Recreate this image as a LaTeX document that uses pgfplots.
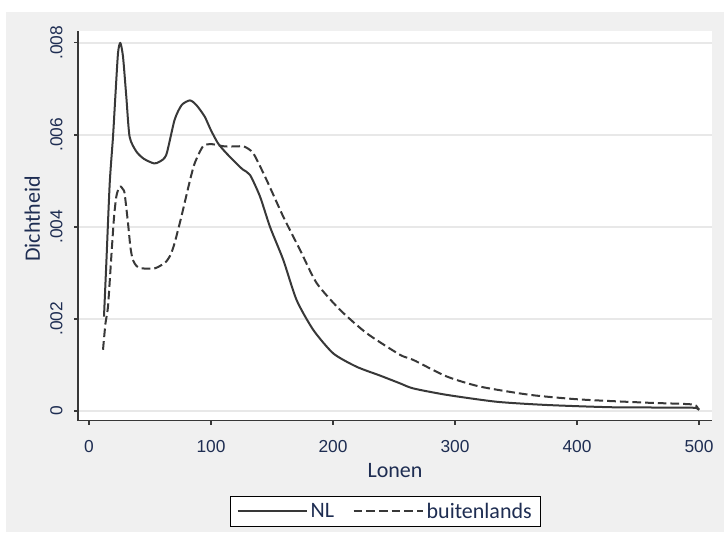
\documentclass[border=0pt]{standalone}
\usepackage{pgfplots}
\pgfplotsset{compat=1.18}
\usepackage{fontspec}
\setmainfont{Carlito}
\newfontfamily\numfont{Liberation Sans}

\definecolor{bggray}{HTML}{F0F0F0}
\definecolor{gridgray}{HTML}{E8E8E8}
\definecolor{txt}{HTML}{1E2D52}
\definecolor{ln}{HTML}{383838}

% kernel density estimates
\pgfplotstableread{
x y
12.3 0.00205
14.2 0.00320
17.0 0.00495
19.7 0.00596
21.6 0.00683
23.8 0.00778
25.7 0.00800
27.9 0.00770
30.6 0.00683
33.3 0.00596
38.8 0.00564
45.0 0.00548
53.3 0.00538
58.0 0.00542
63.4 0.00557
70.2 0.00633
76.0 0.00665
82.8 0.00675
88.0 0.00665
94.8 0.00640
100.0 0.00610
105.7 0.00582
112.0 0.00562
120.8 0.00538
126.0 0.00525
132.0 0.00513
140.2 0.00466
148.4 0.00400
159.3 0.00328
170.2 0.00241
183.9 0.00176
200.3 0.00125
219.4 0.00096
238.5 0.00077
255.0 0.00060
265.8 0.00049
293.2 0.00035
334.2 0.00020
375.2 0.00013
429.8 0.00008
495.0 0.00007
499.0 0.00002
}\nltable

\pgfplotstableread{
x y
11.5 0.00133
13.5 0.00190
15.6 0.00227
18.3 0.00335
20.5 0.00420
22.4 0.00466
24.5 0.00485
26.0 0.00488
27.8 0.00482
29.2 0.00473
32.0 0.00408
34.0 0.00355
36.0 0.00328
39.0 0.00315
42.9 0.00310
53.8 0.00310
60.0 0.00318
63.4 0.00325
67.0 0.00340
70.2 0.00365
75.7 0.00422
82.5 0.00498
86.6 0.00538
93.4 0.00575
100.3 0.00580
111.2 0.00575
122.0 0.00575
127.0 0.00575
134.7 0.00560
145.6 0.00502
159.3 0.00422
173.0 0.00350
186.6 0.00278
205.7 0.00220
227.6 0.00169
255.0 0.00122
265.8 0.00111
293.2 0.00075
320.5 0.00053
361.5 0.00035
402.5 0.00025
457.0 0.00018
495.0 0.00014
499.0 0.00003
}\butable

\begin{document}
\begin{tikzpicture}
\path[use as bounding box, fill=white] (0,0) rectangle (543pt,399pt);
\fill[bggray] (4.5pt,0) rectangle (543pt,390pt);
\begin{axis}[
    at={(58.5pt,83.5pt)}, anchor=south west,
    scale only axis, width=475.5pt, height=292.3pt,
    xmin=-9, xmax=510.7, ymin=-0.000211, ymax=0.00826,
    axis background/.style={fill=white},
    axis x line*=bottom, axis y line*=left,
    axis line style={ln, line width=0.9pt},
    tick style={ln, line width=0.9pt},
    tick align=outside, major tick length=3pt,
    xtick={0,100,200,300,400,500},
    ytick={0,0.002,0.004,0.006,0.008},
    yticklabels={0,.002,.004,.006,.008},
    scaled y ticks=false,
    /pgf/number format/assume math mode=true,
    ticklabel style={font=\numfont\fontsize{13}{15}\selectfont, text=txt},
    xticklabel style={yshift=-8.5pt},
    yticklabel style={rotate=90, anchor=south, yshift=5pt},
    ymajorgrids, grid style={gridgray, line width=1pt},
    xlabel={Lonen}, ylabel={Dichtheid},
    label style={font=\fontsize{16.5}{18}\selectfont, text=txt},
    xlabel style={at={(axis description cs:0.5,-0.129)}, anchor=center},
    ylabel style={at={(axis description cs:-0.072,0.518)}, anchor=center},
    legend columns=2,
    legend image code/.code={\draw[#1] (0pt,0pt) -- (52pt,0pt);},
    legend style={at={(axis description cs:0.485,-0.233)}, anchor=center,
        draw=black, line width=0.8pt, fill=white,
        font=\fontsize{16.5}{18}\selectfont, text=txt,
        inner xsep=4.5pt, inner ysep=2.5pt,
        /tikz/every even column/.append style={column sep=12pt}},
]
\addplot[ln, line width=1.5pt, line join=round, smooth, tension=0.4] table[x=x,y=y] {\nltable};
\addplot[ln, line width=1.5pt, line join=round, smooth, tension=0.4, dash pattern=on 6.5pt off 3pt] table[x=x,y=y] {\butable};
\legend{NL,buitenlands}
\end{axis}
\end{tikzpicture}
\end{document}
